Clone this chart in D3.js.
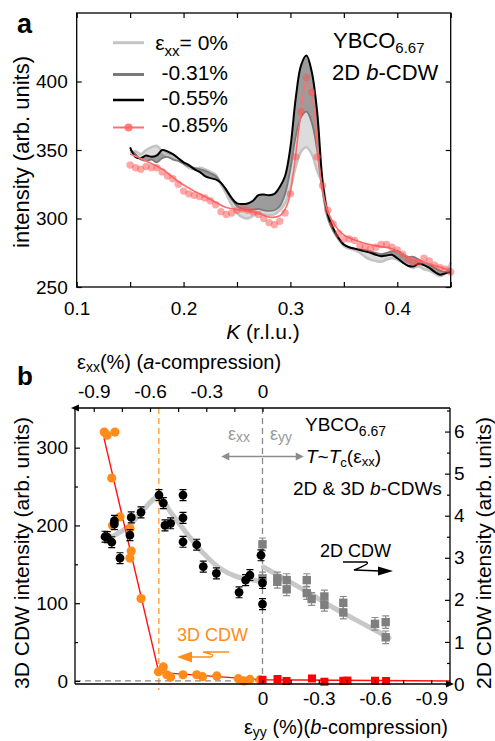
<!DOCTYPE html>
<html><head><meta charset="utf-8">
<script src="https://cdn.jsdelivr.net/npm/d3@7"></script>
<style>body{margin:0;background:#fff}svg{display:block}text{font-family:"Liberation Sans",Arial,sans-serif}</style>
</head><body>
<svg id="c" width="495" height="741"></svg>
<script>
// ---------------- Panel a data ----------------
const kGrid = [0.150,0.155,0.160,0.165,0.170,0.175,0.180,0.185,0.190,0.195,0.200,0.205,0.210,0.215,0.220,0.225,0.230,0.235,0.240,0.245,0.250,0.255,0.260,0.265,0.270,0.275,0.280,0.285,0.290,0.295,0.300,0.305,0.310,0.315,0.320,0.325,0.330,0.335,0.340,0.345,0.350,0.355,0.360,0.365,0.370,0.375,0.380,0.385,0.390,0.395,0.400,0.405,0.410,0.415,0.420,0.425,0.430,0.435,0.440,0.445,0.450];
const strain0 = [348,349,347,350,352,353,349,346,345,343,340,337,336,337,336,334,332,325,318,310,304,301,300,302,303.5,303,302.5,303,306,311,322,338,349,352,347,335,325,305,292,285,280,278,277,275,272,270,269,268.5,270,271,270,268,266,264,265,263,262,260,258,260,268];
const strain031 = [350,347,343,342,343,341,344,345,343,342,340,338,337,336,335,333,331,326,320,314,309,307,306,306.5,307,306,305.5,306,309,318,336,360,374,378,370,350,320,300,291,285,281,279,278,277.5,277,276,275,274,275,276,276.5,274,272,272,270,268,266.5,264,262,261,264];
const strain055 = [352,345,344,346,345,346,350,349,347,344,341,339,336,334,331,329.5,328.5,326,321,315,311,310.5,311,313,317,317.5,317,318,323,331,352,388,412,419,407,378,328,303,293,286,281,279,278,277,276,275,273.5,272.5,273,273.5,271,268,265.5,265,267,266,264,261,259,260,261];
const strain085 = [339,337,336,338,337,337,334,331,329,325,320,318,317,316,315,313,310,305,303,304,306,307,306,305,303,300,297,295.5,298,304,318,345,378,403,392,345,324,306,296,289,285,285,284,280,279,278,279,281,281,279,277,274,270,268,268,271,269,266,264,263,261];
const fitK = [0.150,0.165,0.180,0.195,0.210,0.225,0.240,0.255,0.270,0.280,0.290,0.297,0.303,0.309,0.315,0.321,0.327,0.333,0.340,0.350,0.365,0.380,0.395,0.410,0.425,0.450];
const fitV = [347,342,336,327,320,314,308,306,304,301,302,310,335,372,400,385,338,310,297,288,283,280,278,272,268,262];
const legendLabels = ["= 0%","-0.31%","-0.55%","-0.85%"];
const kTicks = [0.10,0.15,0.20,0.25,0.30,0.35,0.40,0.45];
const kLabelTicks = [0.1,0.2,0.3,0.4];
const yATicks = [250,300,350,400];

// ---------------- Panel b data ----------------
const exx2D = [-0.84,-0.828,-0.804,-0.79,-0.79,-0.76,-0.707,-0.70,-0.648,-0.552,-0.529,-0.52,-0.49,-0.424,-0.424,-0.424,-0.351,-0.316,-0.246,-0.125,-0.09,-0.067,-0.008,0,0];
const int2Dxx = [3.50,3.49,3.37,3.88,3.80,2.99,3.54,3.96,4.08,4.49,4.30,3.77,3.82,4.49,3.95,3.38,3.31,2.79,2.63,2.18,2.47,2.59,3.06,2.40,1.90];
const eyy2D = [0,0,-0.079,-0.079,-0.129,-0.129,-0.236,-0.236,-0.262,-0.33,-0.33,-0.431,-0.431,-0.60,-0.657,-0.657];
const int2Dyy = [3.32,2.51,2.51,2.43,2.47,2.25,2.47,2.16,2.02,2.08,1.88,1.93,1.70,1.43,1.47,1.11];
const exx3D = [-0.844,-0.829,-0.787,-0.804,-0.76,-0.80,-0.707,-0.70,-0.707,-0.648,-0.555,-0.529,-0.51,-0.49,-0.424,-0.351,-0.32,-0.244,-0.129,-0.10,-0.067,-0.013];
const int3Dxx = [320,316,320,261,211,200,196,167,158,106,12,18,8,5,8,8,5.5,6.5,3,0,2,1.5];
const eyy3D = [0,-0.08,-0.128,-0.264,-0.33,-0.431,-0.453,-0.60,-0.659];
const int3Dyy = [1.5,2.5,0,3.2,-1,0.2,0.5,0.3,0];
const fit3Dpos = [-0.845,-0.553,0,1.0];
const fit3Dint = [312,11,1.5,0];
const trendXXe = [-0.83,-0.707,-0.636,-0.552,-0.493,-0.404,-0.316,-0.227,-0.138,-0.049,-0.004];
const trendXXi = [3.45,3.78,4.14,4.45,4.10,3.58,3.11,2.75,2.55,2.47,2.43];
const trendYYe = [-0.005,-0.1,-0.22,-0.36,-0.52,-0.675];
const trendYYi = [2.78,2.54,2.24,1.86,1.47,1.10];
const err2D = 0.13;
const topTicks = [-0.9,-0.75,-0.6,-0.45,-0.3,-0.15,0];
const topLabelTicks = [-0.9,-0.6,-0.3,0];
const botTicks = [0,0.15,0.3,0.45,0.6,0.75,0.9];
const botLabelTicks = [0,0.3,0.6,0.9];
const yLTicks = [0,100,200,300], yLMinor = [50,150,250];
const yRTicks = [0,1,2,3,4,5,6], yRMinor = [0.5,1.5,2.5,3.5,4.5,5.5,6.5];
const orangeDash = -0.553;

// ---------------- helpers ----------------
const svg = d3.select("#c");
function rich(parent, x, y, parts, size, anchor, fill) {
  const t = parent.append("text").attr("x", x).attr("y", y).attr("font-size", size)
    .attr("text-anchor", anchor || "start").attr("fill", fill || "#000");
  let shift = 0;
  parts.forEach(p => {
    if (typeof p === "string") p = {t: p};
    const s = t.append("tspan").text(p.t);
    const target = p.sub ? (p.dy != null ? p.dy : size * 0.28) : 0;
    if (target !== shift) { s.attr("dy", target - shift); shift = target; }
    if (p.fs) s.attr("font-size", p.fs); else if (p.sub) s.attr("font-size", size * 0.68);
    if (p.it) s.attr("font-style", "italic");
  });
  return t;
}
function styleAxis(g, fs) {
  g.attr("font-size", fs).attr("font-family", '"Liberation Sans", Arial, sans-serif');
  g.select(".domain").remove();
  g.selectAll("line").attr("stroke", "#000").attr("stroke-width", 1.2);
  g.selectAll("text").attr("fill", "#000");
}

// ================= Panel a =================
const xA = d3.scaleLinear().domain([0.1, 0.45]).range([76.7, 450.7]);
const yA = d3.scaleLinear().domain([250, 450]).range([287, 13]);
const gA = svg.append("g");
const idx = d3.range(kGrid.length);
const cv = d3.curveCatmullRom.alpha(0.5);
gA.append("path").datum(idx).attr("fill", "#dcdcdc")
  .attr("d", d3.area().x(i => xA(kGrid[i])).y0(i => yA(strain0[i])).y1(i => yA(strain031[i])).curve(cv));
gA.append("path").datum(idx).attr("fill", "#9c9c9c")
  .attr("d", d3.area().x(i => xA(kGrid[i])).y0(i => yA(strain031[i])).y1(i => yA(strain055[i])).curve(cv));
const lineA = arr => d3.line().x(i => xA(kGrid[i])).y(i => yA(arr[i])).curve(cv)(idx);
gA.append("path").attr("d", lineA(strain0)).attr("fill", "none").attr("stroke", "#c4c4c4").attr("stroke-width", 2.6);
gA.append("path").attr("d", lineA(strain031)).attr("fill", "none").attr("stroke", "#7a7a7a").attr("stroke-width", 1.8);
gA.append("path").attr("d", lineA(strain055)).attr("fill", "none").attr("stroke", "#000").attr("stroke-width", 2);
gA.append("path").attr("d", d3.line().x((d, i) => xA(fitK[i])).y((d, i) => yA(fitV[i])).curve(cv)(fitK))
  .attr("fill", "none").attr("stroke", "#ff6e6e").attr("stroke-width", 1.6);
gA.selectAll("circle.r").data(idx).join("circle").attr("class", "r")
  .attr("cx", i => xA(kGrid[i])).attr("cy", i => yA(strain085[i])).attr("r", 3.7)
  .attr("fill", "#ff5050").attr("fill-opacity", 0.5);

// axes a
const axAb = gA.append("g").attr("transform", "translate(0,287)")
  .call(d3.axisBottom(xA).tickValues(kTicks).tickSizeInner(-5).tickSizeOuter(0).tickPadding(15)
    .tickFormat(d => kLabelTicks.some(v => Math.abs(v - d) < 1e-9) ? d3.format(".1f")(d) : ""));
styleAxis(axAb, 19);
const axAt = gA.append("g").attr("transform", "translate(0,13)")
  .call(d3.axisTop(xA).tickValues(kTicks).tickSizeInner(-5).tickSizeOuter(0).tickFormat(""));
styleAxis(axAt, 19);
const axAl = gA.append("g").attr("transform", "translate(76.7,0)")
  .call(d3.axisLeft(yA).tickValues(yATicks).tickSizeInner(-5).tickSizeOuter(0).tickPadding(9));
styleAxis(axAl, 19);
const axAr = gA.append("g").attr("transform", "translate(450.7,0)")
  .call(d3.axisRight(yA).tickValues(yATicks).tickSizeInner(-5).tickSizeOuter(0).tickFormat(""));
styleAxis(axAr, 19);
gA.append("rect").attr("x", xA(0.1)).attr("y", yA(450)).attr("width", xA(0.45) - xA(0.1))
  .attr("height", yA(250) - yA(450)).attr("fill", "none").attr("stroke", "#000").attr("stroke-width", 1.3);

// legend a
const legY = [42.7, 74.5, 100, 127.5], legTextY = [50, 80, 105, 131.5];
const legCol = ["#c4c4c4", "#7a7a7a", "#000", "#ff7070"], legW = [3, 3, 2.5, 2];
legY.forEach((y, i) => {
  gA.append("line").attr("x1", 113).attr("x2", 144).attr("y1", y).attr("y2", y)
    .attr("stroke", legCol[i]).attr("stroke-width", legW[i]);
});
gA.append("circle").attr("cx", 128.5).attr("cy", legY[3]).attr("r", 4).attr("fill", "#ff6060").attr("fill-opacity", 0.8);
rich(gA, 228, legTextY[0], ["ε", {t: "xx", sub: true, fs: 15, dy: 6}, {t: legendLabels[0]}], 21, "end");
for (let i = 1; i < 4; i++) rich(gA, 228, legTextY[i], [legendLabels[i]], 21, "end");
rich(gA, 333, 48, ["YBCO", {t: "6.67", sub: true, fs: 15, dy: 5}], 22);
rich(gA, 332, 80, ["2D ", {t: "b", it: true}, "-CDW"], 22);
gA.append("text").attr("x", 17).attr("y", 33).attr("font-size", 27).attr("font-weight", "bold").text("a");
gA.append("text").attr("transform", "translate(29,152) rotate(-90)").attr("text-anchor", "middle")
  .attr("font-size", 22).text("intensity (arb. units)");
rich(gA, 263, 339, [{t: "K", it: true}, " (r.l.u.)"], 21, "middle");

// ================= Panel b =================
const sX = d3.scaleLinear().domain([-1, 1]).range([75, 450]);
const yL = d3.scaleLinear().domain([-3.9, 351]).range([684, 408]);
const yR = d3.scaleLinear().domain([0, 6.56]).range([684, 408]);
const gB = svg.append("g");

// dashed guides
gB.append("line").attr("x1", sX(orangeDash)).attr("x2", sX(orangeDash)).attr("y1", 408).attr("y2", 690)
  .attr("stroke", "#ff9a30").attr("stroke-width", 1.3).attr("stroke-dasharray", "6,4");
gB.append("line").attr("x1", sX(0)).attr("x2", sX(0)).attr("y1", 408).attr("y2", 684)
  .attr("stroke", "#8a8a8a").attr("stroke-width", 1.3).attr("stroke-dasharray", "6,4");
gB.append("line").attr("x1", 75).attr("x2", sX(0)).attr("y1", yL(0)).attr("y2", yL(0))
  .attr("stroke", "#8a8a8a").attr("stroke-width", 1.3).attr("stroke-dasharray", "6,4");

// gray trend lines
const trendLine = d3.line().curve(d3.curveMonotoneX);
gB.append("path").attr("d", trendLine(trendXXe.map((e, i) => [sX(e), yR(trendXXi[i])])))
  .attr("fill", "none").attr("stroke", "#c8c8c8").attr("stroke-width", 5).attr("stroke-linecap", "round");
gB.append("path").attr("d", trendLine(trendYYe.map((e, i) => [sX(-e), yR(trendYYi[i])])))
  .attr("fill", "none").attr("stroke", "#c8c8c8").attr("stroke-width", 5).attr("stroke-linecap", "round");

// red fit line
gB.append("path").attr("d", d3.line()(fit3Dpos.map((p, i) => [sX(p), yL(fit3Dint[i])])))
  .attr("fill", "none").attr("stroke", "#ff1010").attr("stroke-width", 1.4);

// orange 3D circles
gB.selectAll("circle.o").data(exx3D).join("circle").attr("class", "o")
  .attr("cx", d => sX(d)).attr("cy", (d, i) => yL(int3Dxx[i])).attr("r", 4.6).attr("fill", "#ff8c1a");
// red 3D squares
gB.selectAll("rect.rs").data(eyy3D).join("rect").attr("class", "rs")
  .attr("x", d => sX(-d) - 4).attr("y", (d, i) => yL(int3Dyy[i]) - 4).attr("width", 8).attr("height", 8).attr("fill", "#ff0000");

// gray squares w/ error bars
eyy2D.forEach((e, i) => {
  const x = sX(-e), y0 = yR(int2Dyy[i] - err2D - 0.02), y1 = yR(int2Dyy[i] + err2D + 0.02);
  gB.append("path").attr("d", `M${x},${y0}V${y1}M${x - 3.5},${y0}H${x + 3.5}M${x - 3.5},${y1}H${x + 3.5}`)
    .attr("stroke", "#8c8c8c").attr("stroke-width", 1.2).attr("fill", "none");
});
gB.selectAll("rect.gs").data(eyy2D).join("rect").attr("class", "gs")
  .attr("x", d => sX(-d) - 4.2).attr("y", (d, i) => yR(int2Dyy[i]) - 4.2).attr("width", 8.4).attr("height", 8.4).attr("fill", "#7f7f7f");

// black circles w/ error bars
exx2D.forEach((e, i) => {
  const x = sX(e), y0 = yR(int2Dxx[i] - err2D), y1 = yR(int2Dxx[i] + err2D);
  gB.append("path").attr("d", `M${x},${y0}V${y1}M${x - 3.5},${y0}H${x + 3.5}M${x - 3.5},${y1}H${x + 3.5}`)
    .attr("stroke", "#000").attr("stroke-width", 1.2).attr("fill", "none");
});
gB.selectAll("circle.k").data(exx2D).join("circle").attr("class", "k")
  .attr("cx", d => sX(d)).attr("cy", (d, i) => yR(int2Dxx[i])).attr("r", 4.4).attr("fill", "#000");

// axes b
const axBl = gB.append("g").attr("transform", "translate(75,0)")
  .call(d3.axisLeft(yL).tickValues(yLTicks).tickSizeInner(-5).tickSizeOuter(0).tickPadding(7));
styleAxis(axBl, 19);
const axBl2 = gB.append("g").attr("transform", "translate(75,0)")
  .call(d3.axisLeft(yL).tickValues(yLMinor).tickSizeInner(-3).tickSizeOuter(0).tickFormat(""));
styleAxis(axBl2, 19);
const axBr = gB.append("g").attr("transform", "translate(450,0)")
  .call(d3.axisRight(yR).tickValues(yRTicks).tickSizeInner(-5).tickSizeOuter(0).tickPadding(4).tickFormat(d3.format("d")));
styleAxis(axBr, 19);
const axBr2 = gB.append("g").attr("transform", "translate(450,0)")
  .call(d3.axisRight(yR).tickValues(yRMinor).tickSizeInner(-3).tickSizeOuter(0).tickFormat(""));
styleAxis(axBr2, 19);
const axBt = gB.append("g").attr("transform", "translate(0,408)")
  .call(d3.axisTop(sX).tickValues(topTicks).tickSizeInner(-4).tickSizeOuter(0).tickPadding(10)
    .tickFormat(d => topLabelTicks.some(v => Math.abs(v - d) < 1e-9) ? (d === 0 ? "0" : d3.format(".1f")(d).replace("−", "-")) : ""));
styleAxis(axBt, 19);
const axBb = gB.append("g").attr("transform", "translate(0,684)")
  .call(d3.axisBottom(sX).tickValues(botTicks).tickSizeInner(-4).tickSizeOuter(0).tickPadding(8)
    .tickFormat(d => botLabelTicks.some(v => Math.abs(v - d) < 1e-9) ? (d === 0 ? "0" : "-" + d3.format(".1f")(d)) : ""));
styleAxis(axBb, 19);
// frame
gB.append("path").attr("d", `M75,408H450M75,684H449M75,408V684M450,408V684`)
  .attr("stroke", "#000").attr("stroke-width", 1.3).attr("fill", "none");
gB.append("path").attr("d", "M71,408L79,404.5L79,411.5Z").attr("fill", "#000");
gB.append("path").attr("d", "M454,684L446,680.5L446,687.5Z").attr("fill", "#000");

// annotations b
gB.append("text").attr("x", 17).attr("y", 385).attr("font-size", 26).attr("font-weight", "bold").text("b");
rich(gB, 77, 369, ["ε", {t: "xx", sub: true, fs: 14, dy: 3}, "(%) (", {t: "a", it: true}, "-compression)"], 20);
rich(gB, 448, 734, ["ε", {t: "yy", sub: true, fs: 14, dy: 3}, " (%)(", {t: "b", it: true}, "-compression)"], 20, "end");
rich(gB, 305, 431, ["YBCO", {t: "6.67", sub: true, fs: 14, dy: 5}], 19);
rich(gB, 306, 463, [{t: "T", it: true}, "~", {t: "T", it: true}, {t: "c", sub: true, fs: 13, dy: 4}, "(ε", {t: "xx", sub: true, fs: 13, dy: 3}, ")"], 19);
rich(gB, 293, 495, ["2D & 3D ", {t: "b", it: true}, "-CDWs"], 19);
rich(gB, 228, 440, ["ε", {t: "xx", sub: true, fs: 14, dy: 2}], 18, "start", "#999");
rich(gB, 270, 440, ["ε", {t: "yy", sub: true, fs: 14, dy: 2}], 18, "start", "#999");
gB.append("text").attr("x", 320).attr("y", 557).attr("font-size", 18).text("2D CDW");
gB.append("text").attr("x", 177).attr("y", 641).attr("font-size", 18).attr("fill", "#ff8c1a").text("3D CDW");
gB.append("text").attr("transform", "translate(29,553) rotate(-90)").attr("text-anchor", "middle")
  .attr("font-size", 21).text("3D CDW intensity (arb. units)");
gB.append("text").attr("transform", "translate(491,553) rotate(-90)").attr("text-anchor", "middle")
  .attr("font-size", 21).text("2D CDW intensity (arb. units)");

// strain arrows
const ay = 456.5;
gB.append("line").attr("x1", sX(0)).attr("x2", sX(-0.18)).attr("y1", ay).attr("y2", ay).attr("stroke", "#8c8c8c").attr("stroke-width", 1.6);
gB.append("line").attr("x1", sX(0)).attr("x2", sX(0.18)).attr("y1", ay).attr("y2", ay).attr("stroke", "#8c8c8c").attr("stroke-width", 1.6);
gB.append("path").attr("d", `M${sX(-0.22)},${ay}l8,-4v8z`).attr("fill", "#8c8c8c");
gB.append("path").attr("d", `M${sX(0.22)},${ay}l-8,-4v8z`).attr("fill", "#8c8c8c");

// squiggle arrows
gB.append("path").attr("d", "M343,562L366,562Q372,563 354,570L381,571").attr("fill", "none").attr("stroke", "#000").attr("stroke-width", 1.3);
gB.append("path").attr("d", "M393,571L378,566.5L378,575.5Z").attr("fill", "#000");
gB.append("path").attr("d", "M190,657L211,657Q217,655 203,652L229,652").attr("fill", "none").attr("stroke", "#ff8c1a").attr("stroke-width", 1.3);
gB.append("path").attr("d", "M177,657L192,651.5L192,662.5Z").attr("fill", "#ff8c1a");
</script>
</body></html>
